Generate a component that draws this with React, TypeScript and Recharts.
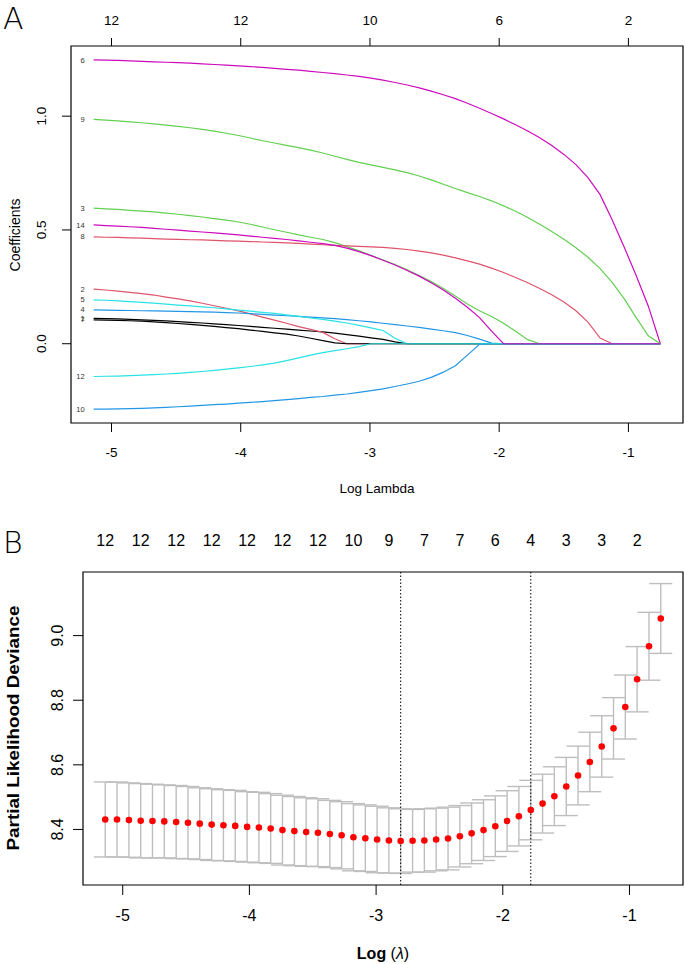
import React from 'react';
import { ComposedChart, Line, Scatter, ErrorBar, XAxis, YAxis, ReferenceArea, ReferenceLine } from 'recharts';

// shared lambda path (log scale)
const logLambda = [
  -5.138, -5.045, -4.951, -4.858, -4.765, -4.672, -4.578, -4.485, -4.392, -4.298,
  -4.205, -4.112, -4.018, -3.925, -3.832, -3.739, -3.645, -3.552, -3.459, -3.365,
  -3.272, -3.179, -3.085, -2.992, -2.899, -2.806, -2.712, -2.619, -2.526, -2.432,
  -2.339, -2.246, -2.152, -2.059, -1.966, -1.873, -1.779, -1.686, -1.593, -1.499,
  -1.406, -1.313, -1.219, -1.126, -1.033, -0.94, -0.846, -0.753,
];

// panel A: coefficient paths, one value per lambda
const coef1 = [
  0.111, 0.11, 0.109, 0.107, 0.105, 0.103, 0.1, 0.097, 0.094, 0.091,
  0.087, 0.084, 0.08, 0.076, 0.072, 0.068, 0.064, 0.06, 0.056, 0.052,
  0.047, 0.04, 0.033, 0.026, 0.019, 0.008, 0, 0, 0, 0,
  0, 0, 0, 0, 0, 0, 0, 0, 0, 0, 0, 0, 0, 0, 0, 0, 0, 0,
];
const coef2 = [
  0.24, 0.236, 0.231, 0.226, 0.22, 0.214, 0.205, 0.197, 0.188, 0.178,
  0.167, 0.156, 0.144, 0.131, 0.117, 0.104, 0.09, 0.075, 0.063, 0.05,
  0.022, 0, 0, 0, 0, 0, 0, 0, 0, 0,
  0, 0, 0, 0, 0, 0, 0, 0, 0, 0, 0, 0, 0, 0, 0, 0, 0, 0,
];
const coef3 = [
  0.596, 0.593, 0.59, 0.586, 0.583, 0.579, 0.574, 0.569, 0.563, 0.557,
  0.55, 0.543, 0.535, 0.525, 0.513, 0.501, 0.49, 0.478, 0.468, 0.458,
  0.444, 0.427, 0.408, 0.388, 0.368, 0.348, 0.325, 0.3, 0.273, 0.243,
  0.21, 0.175, 0.145, 0.12, 0.09, 0.055, 0.018, 0, 0, 0,
  0, 0, 0, 0, 0, 0, 0, 0,
];
const coef4 = [
  0.149, 0.148, 0.147, 0.146, 0.145, 0.144, 0.143, 0.142, 0.141, 0.14,
  0.139, 0.137, 0.135, 0.132, 0.129, 0.126, 0.123, 0.12, 0.117, 0.114,
  0.11, 0.106, 0.101, 0.096, 0.09, 0.084, 0.078, 0.072, 0.064, 0.057,
  0.049, 0.036, 0.02, 0.003, 0, 0, 0, 0, 0, 0,
  0, 0, 0, 0, 0, 0, 0, 0,
];
const coef5 = [
  0.193, 0.191, 0.188, 0.185, 0.182, 0.178, 0.174, 0.17, 0.166, 0.162,
  0.158, 0.153, 0.148, 0.143, 0.138, 0.133, 0.127, 0.12, 0.113, 0.107,
  0.099, 0.091, 0.081, 0.07, 0.058, 0.024, 0, 0, 0, 0,
  0, 0, 0, 0, 0, 0, 0, 0, 0, 0, 0, 0, 0, 0, 0, 0, 0, 0,
];
const coef6 = [
  1.247, 1.246, 1.245, 1.243, 1.241, 1.239, 1.237, 1.235, 1.233, 1.23,
  1.227, 1.224, 1.221, 1.218, 1.214, 1.21, 1.206, 1.202, 1.197, 1.192,
  1.187, 1.181, 1.175, 1.167, 1.158, 1.148, 1.137, 1.124, 1.11, 1.094,
  1.077, 1.057, 1.035, 1.012, 0.988, 0.962, 0.935, 0.905, 0.871, 0.832,
  0.787, 0.73, 0.655, 0.545, 0.425, 0.3, 0.165, 0,
];
const coef7 = [
  0.105, 0.104, 0.103, 0.101, 0.099, 0.096, 0.093, 0.089, 0.085, 0.081,
  0.076, 0.071, 0.066, 0.06, 0.054, 0.048, 0.042, 0.034, 0.024, 0.014,
  0.004, 0, 0, 0, 0, 0, 0, 0, 0, 0,
  0, 0, 0, 0, 0, 0, 0, 0, 0, 0, 0, 0, 0, 0, 0, 0, 0, 0,
];
const coef8 = [
  0.47, 0.468, 0.467, 0.465, 0.464, 0.462, 0.46, 0.459, 0.457, 0.456,
  0.454, 0.452, 0.451, 0.449, 0.447, 0.445, 0.443, 0.441, 0.438, 0.435,
  0.432, 0.43, 0.428, 0.426, 0.423, 0.419, 0.414, 0.407, 0.399, 0.389,
  0.377, 0.364, 0.35, 0.332, 0.313, 0.291, 0.268, 0.243, 0.215, 0.183,
  0.145, 0.095, 0.025, 0, 0, 0, 0, 0,
];
const coef9 = [
  0.986, 0.983, 0.979, 0.975, 0.971, 0.966, 0.961, 0.955, 0.949, 0.942,
  0.934, 0.925, 0.915, 0.904, 0.892, 0.882, 0.872, 0.862, 0.851, 0.838,
  0.824, 0.81, 0.797, 0.786, 0.775, 0.764, 0.752, 0.737, 0.72, 0.701,
  0.682, 0.664, 0.647, 0.628, 0.606, 0.582, 0.555, 0.525, 0.493, 0.459,
  0.422, 0.38, 0.33, 0.27, 0.198, 0.115, 0.035, 0,
];
const coef10 = [
  -0.287, -0.287, -0.286, -0.285, -0.284, -0.282, -0.28, -0.277, -0.274, -0.271,
  -0.268, -0.265, -0.261, -0.258, -0.254, -0.25, -0.246, -0.241, -0.236, -0.232,
  -0.226, -0.221, -0.214, -0.206, -0.198, -0.188, -0.177, -0.165, -0.148, -0.125,
  -0.097, -0.05, -0.003, 0, 0, 0, 0, 0, 0, 0,
  0, 0, 0, 0, 0, 0, 0, 0,
];
const coef12 = [
  -0.144, -0.143, -0.142, -0.14, -0.138, -0.136, -0.133, -0.13, -0.126, -0.122,
  -0.117, -0.112, -0.106, -0.1, -0.093, -0.085, -0.074, -0.062, -0.05, -0.039,
  -0.03, -0.022, -0.013, 0, 0, 0, 0, 0, 0, 0,
  0, 0, 0, 0, 0, 0, 0, 0, 0, 0, 0, 0, 0, 0, 0, 0, 0, 0,
];
const coef14 = [
  0.522, 0.519, 0.517, 0.514, 0.511, 0.507, 0.503, 0.499, 0.495, 0.491,
  0.487, 0.483, 0.478, 0.473, 0.468, 0.463, 0.458, 0.452, 0.446, 0.44,
  0.432, 0.42, 0.405, 0.387, 0.367, 0.346, 0.322, 0.297, 0.268, 0.236,
  0.2, 0.16, 0.115, 0.055, 0, 0, 0, 0, 0, 0,
  0, 0, 0, 0, 0, 0, 0, 0,
];

const ticksA = [-5, -4, -3, -2, -1];
const nzeroTopA = [12, 12, 10, 6, 2];
const yTicksA = [0, 0.5, 1.0];

// panel B: cross-validated partial likelihood deviance
const cvMean = [
  8.431, 8.431, 8.429, 8.427, 8.426, 8.425, 8.423, 8.421, 8.418, 8.415,
  8.413, 8.411, 8.408, 8.406, 8.403, 8.398, 8.395, 8.392, 8.39, 8.386,
  8.382, 8.376, 8.373, 8.369, 8.366, 8.364, 8.365, 8.366, 8.369, 8.372,
  8.379, 8.388, 8.398, 8.41, 8.426, 8.441, 8.46, 8.48, 8.503, 8.533,
  8.567, 8.609, 8.657, 8.713, 8.779, 8.865, 8.967, 9.053,
];
const cvSd = [
  0.116, 0.116, 0.115, 0.115, 0.114, 0.113, 0.113, 0.112, 0.111, 0.111,
  0.11, 0.11, 0.109, 0.109, 0.108, 0.108, 0.107, 0.106, 0.105, 0.104,
  0.104, 0.104, 0.103, 0.103, 0.101, 0.1, 0.097, 0.098, 0.097, 0.097,
  0.095, 0.094, 0.094, 0.094, 0.094, 0.092, 0.092, 0.091, 0.091, 0.09,
  0.091, 0.092, 0.095, 0.095, 0.099, 0.101, 0.105, 0.108,
];
const nzeroB = [12, 12, 12, 12, 12, 12, 12, 10, 9, 7, 7, 6, 4, 3, 3, 2];
const nzeroBIdx = [0, 3, 6, 9, 12, 15, 18, 21, 24, 27, 30, 33, 36, 39, 42, 45];
const ticksB = [-5, -4, -3, -2, -1];
const yTicksB = [8.4, 8.6, 8.8, 9.0];

const FONT = '"Liberation Sans", Arial, Helvetica, sans-serif';
const LETTER_FONT = '"DejaVu Sans", sans-serif';

const PAL = {
  black: '#000000',
  red: '#DF536B',
  green: '#61D04F',
  blue: '#2297E6',
  cyan: '#28E2E5',
  magenta: '#CD0BBC',
};

const paths = [
  { id: '1', values: coef1, color: PAL.black },
  { id: '2', values: coef2, color: PAL.red },
  { id: '3', values: coef3, color: PAL.green },
  { id: '4', values: coef4, color: PAL.blue },
  { id: '5', values: coef5, color: PAL.cyan },
  { id: '6', values: coef6, color: PAL.magenta },
  { id: '7', values: coef7, color: PAL.black },
  { id: '8', values: coef8, color: PAL.red },
  { id: '9', values: coef9, color: PAL.green },
  { id: '10', values: coef10, color: PAL.blue },
  { id: '12', values: coef12, color: PAL.cyan },
  { id: '14', values: coef14, color: PAL.magenta },
];

// R-style axis range: data extent plus 4% each side
function padRange(vals: number[]): [number, number] {
  const lo = Math.min(...vals);
  const hi = Math.max(...vals);
  const d = (hi - lo) * 0.04;
  return [lo - d, hi + d];
}

const xDomain = padRange(logLambda);
const yDomainA = padRange(paths.flatMap((p) => p.values));
const cvData = logLambda.map((x, i) => ({ x, cvm: cvMean[i], err: cvSd[i] }));
const yDomainB = padRange(cvData.flatMap((d) => [d.cvm - d.err, d.cvm + d.err]));

const minIdx = cvMean.indexOf(Math.min(...cvMean));
const seIdx = (() => {
  const limit = cvMean[minIdx] + cvSd[minIdx];
  let k = minIdx;
  cvMean.forEach((v, i) => {
    if (v <= limit && i > k) k = i;
  });
  return k;
})();

const labelData = paths.map((p) => ({ x: logLambda[0], y: p.values[0], id: p.id }));
// top axis entries sit on the upper plot edge
const topA = ticksA.map((x, i) => ({ x, y: yDomainA[1], n: nzeroTopA[i] }));
const topB = nzeroBIdx.map((idx, i) => ({ x: logLambda[idx], cvm: yDomainB[1], n: nzeroB[i] }));

function HTick({ x, y, text, dy, size }: any) {
  return (
    <text x={x} y={y + dy} textAnchor="middle" fontSize={size} fontFamily={FONT} fill="#000">
      {text}
    </text>
  );
}

function VTick({ x, y, text, dx, size }: any) {
  const cx = x + dx;
  return (
    <text
      x={cx}
      y={y}
      dy="0.35em"
      transform={`rotate(-90, ${cx}, ${y})`}
      textAnchor="middle"
      fontSize={size}
      fontFamily={FONT}
      fill="#000"
    >
      {text}
    </text>
  );
}

function PanelA() {
  return (
    <ComposedChart
      width={685}
      height={500}
      margin={{ top: 46, right: 2, left: 31, bottom: 30 }}
    >
      <XAxis
        dataKey="x"
        type="number"
        domain={xDomain}
        ticks={ticksA}
        axisLine={false}
        tickSize={9}
        tickMargin={0}
        height={47}
        tickLine={{ stroke: '#000' }}
        tick={(p: any) => <HTick x={p.x} y={p.y} dy={24.5} size={13.5} text={String(p.payload.value)} />}
      />
      <YAxis
        dataKey="y"
        type="number"
        domain={yDomainA}
        ticks={yTicksA}
        axisLine={false}
        tickSize={9}
        tickMargin={0}
        width={40}
        tickLine={{ stroke: '#000' }}
        tick={(p: any) => <VTick x={p.x} y={p.y} dx={-21} size={13.5} text={p.payload.value.toFixed(1)} />}
      />
      <ReferenceArea
        x1={xDomain[0]}
        x2={xDomain[1]}
        y1={yDomainA[0]}
        y2={yDomainA[1]}
        fill="none"
        fillOpacity={0}
        stroke="#000"
        strokeWidth={1.2}
        ifOverflow="visible"
      />
      {paths.map((p) => (
        <Line
          key={p.id}
          data={logLambda.map((x, i) => ({ x, y: p.values[i] }))}
          dataKey="y"
          type="linear"
          stroke={p.color}
          strokeWidth={1.2}
          dot={false}
          activeDot={false}
          isAnimationActive={false}
        />
      ))}
      <Scatter
        data={labelData}
        dataKey="y"
        isAnimationActive={false}
        shape={(s: any) => (
          <text
            x={s.cx - 9}
            y={s.cy}
            dy="0.35em"
            textAnchor="end"
            fontSize={7.5}
            fontFamily={FONT}
            fill="#333"
          >
            {s.payload.id}
          </text>
        )}
      />
      <Scatter
        data={topA}
        dataKey="y"
        isAnimationActive={false}
        shape={(s: any) => (
          <g>
            <line x1={s.cx} x2={s.cx} y1={s.cy} y2={s.cy - 8} stroke="#000" />
            <text x={s.cx} y={s.cy - 21.3} textAnchor="middle" fontSize={13.5} fontFamily={FONT} fill="#000">
              {s.payload.n}
            </text>
          </g>
        )}
      />
    </ComposedChart>
  );
}

function PanelB() {
  return (
    <ComposedChart
      width={685}
      height={464}
      data={cvData}
      margin={{ top: 72, right: 2, left: 33, bottom: 29 }}
    >
      <XAxis
        dataKey="x"
        type="number"
        domain={xDomain}
        ticks={ticksB}
        axisLine={false}
        tickSize={10}
        tickMargin={0}
        height={50}
        tickLine={{ stroke: '#000' }}
        tick={(p: any) => <HTick x={p.x} y={p.y} dy={25.5} size={16} text={String(p.payload.value)} />}
      />
      <YAxis
        dataKey="cvm"
        type="number"
        domain={yDomainB}
        ticks={yTicksB}
        axisLine={false}
        tickSize={10}
        tickMargin={0}
        width={50}
        tickLine={{ stroke: '#000' }}
        tick={(p: any) => <VTick x={p.x} y={p.y} dx={-16} size={16} text={p.payload.value.toFixed(1)} />}
      />
      <ReferenceArea
        x1={xDomain[0]}
        x2={xDomain[1]}
        y1={yDomainB[0]}
        y2={yDomainB[1]}
        fill="none"
        fillOpacity={0}
        stroke="#000"
        strokeWidth={1.2}
        ifOverflow="visible"
      />
      <Scatter data={cvData} dataKey="cvm" isAnimationActive={false} shape={() => <g />}>
        <ErrorBar dataKey="err" direction="y" width={11.5} stroke="#BEBEBE" strokeWidth={1.4} />
      </Scatter>
      <ReferenceLine x={logLambda[minIdx]} stroke="#000" strokeDasharray="1.5 2" strokeWidth={1} />
      <ReferenceLine x={logLambda[seIdx]} stroke="#000" strokeDasharray="1.5 2" strokeWidth={1} />
      <Scatter
        data={cvData}
        dataKey="cvm"
        isAnimationActive={false}
        shape={(s: any) => <circle cx={s.cx} cy={s.cy} r={3.3} fill="#FF0000" />}
      />
      <Scatter
        data={topB}
        dataKey="cvm"
        isAnimationActive={false}
        shape={(s: any) => (
          <text x={s.cx} y={s.cy - 26.4} textAnchor="middle" fontSize={16} fontFamily={FONT} fill="#000">
            {s.payload.n}
          </text>
        )}
      />
    </ComposedChart>
  );
}

export default function App() {
  return (
    <div style={{ position: 'absolute', left: 0, top: 0, width: 685, height: 964, background: '#fff' }}>
      <div style={{ position: 'absolute', left: 0, top: 0 }}>
        <PanelA />
      </div>
      <div style={{ position: 'absolute', left: 0, top: 500 }}>
        <PanelB />
      </div>
      <svg
        width={685}
        height={964}
        style={{ position: 'absolute', left: 0, top: 0, pointerEvents: 'none' }}
      >
        <text x={3} y={29} fontSize={30} fontWeight={200} fontFamily={LETTER_FONT} fill="#000">A</text>
        <text x={3} y={553} fontSize={30} fontWeight={200} fontFamily={LETTER_FONT} fill="#000">B</text>
        <text
          x={15}
          y={235}
          dy="0.35em"
          transform="rotate(-90, 15, 235)"
          textAnchor="middle"
          fontSize={14}
          fontFamily={FONT}
          fill="#000"
        >
          Coefficients
        </text>
        <text x={377} y={488} dy="0.35em" textAnchor="middle" fontSize={13.5} fontFamily={FONT} fill="#000">
          Log Lambda
        </text>
        <text
          x={13}
          y={728}
          dy="0.35em"
          transform="rotate(-90, 13, 728)"
          textAnchor="middle"
          fontSize={17}
          fontWeight="bold"
          fontFamily={FONT}
          fill="#000"
          textLength={245}
          lengthAdjust="spacingAndGlyphs"
        >
          Partial Likelihood Deviance
        </text>
        <text x={383} y={953} dy="0.35em" textAnchor="middle" fontSize={16} fontFamily={FONT} fill="#000">
          <tspan fontWeight="bold">Log </tspan>
          <tspan>(</tspan>
          <tspan fontStyle="italic">λ</tspan>
          <tspan>)</tspan>
        </text>
      </svg>
    </div>
  );
}
